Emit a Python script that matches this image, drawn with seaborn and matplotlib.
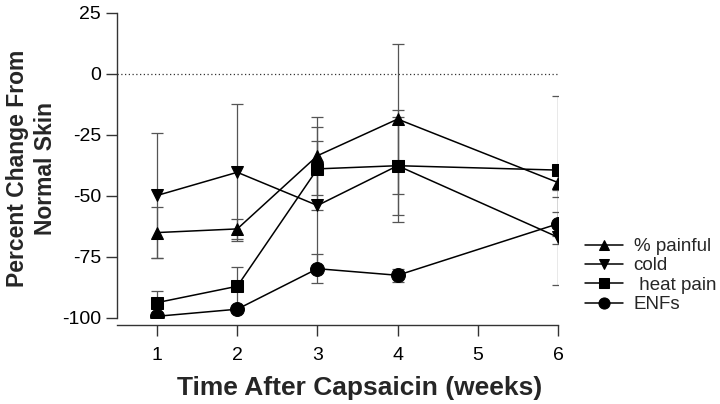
import numpy as np
import pandas as pd
import seaborn as sns
import matplotlib
matplotlib.use("Agg")
import matplotlib.pyplot as plt

# data
WEEKS = [1, 2, 3, 4, 6]
SERIES = ['% painful', 'cold', ' heat pain', 'ENFs']
PAINFUL = [-65, -63.5, -33.5, -18.5, -44.5]
PAINFUL_ERR = [10.5, 4, 16, 30.6, 5.8]
COLD = [-49.8, -40.3, -53.9, -37.6, -66.9]
COLD_ERR = [25.6, 28, 26.3, 20, 19.5]
HEAT = [-93.7, -87, -38.9, -37.6, -39.4]
HEAT_ERR = [4.8, 8, 17, 23, 30.4]
ENFS = [-99.3, -96.4, -79.8, -82.5, -61.4]
ENFS_ERR = [1, 1, 6, 2.6, 5]
MARKERS = {'% painful': '^', 'cold': 'v', ' heat pain': 's', 'ENFs': 'o'}
MSIZE = {'% painful': 9, 'cold': 9, ' heat pain': 8.5, 'ENFs': 10}

sns.set_style('ticks')
plt.rcParams['font.family'] = ['Liberation Sans', 'DejaVu Sans']

vals = [PAINFUL, COLD, HEAT, ENFS]
errs = [PAINFUL_ERR, COLD_ERR, HEAT_ERR, ENFS_ERR]
df = pd.DataFrame({
    'week': WEEKS * len(SERIES),
    'value': sum(vals, []),
    'err': sum(errs, []),
    'series': sum([[s] * len(WEEKS) for s in SERIES], []),
})

fig = plt.figure(figsize=(7.2, 4.04), dpi=100)
ax = fig.add_axes([0.1625, 0.2129, 0.6125, 0.7551])

# error bars behind the lines
for s in SERIES:
    d = df[df.series == s]
    ax.errorbar(d.week, d.value, yerr=d.err, fmt='none', ecolor='#555555',
                elinewidth=0.9, capsize=4, capthick=0.9, zorder=1)

ax.axhline(0, color='#333333', lw=0.9, ls=(0, (1, 2)), zorder=0)

for s in SERIES:
    d = df[df.series == s]
    sns.lineplot(data=d, x='week', y='value', color='black', lw=1.1,
                 marker=MARKERS[s], markersize=MSIZE[s], markeredgecolor='black',
                 label=s, ax=ax, zorder=3)

ax.set_xlim(0.5, 6)
ax.set_ylim(-100, 25)
ax.set_xticks([1, 2, 3, 4, 5, 6])
ax.set_yticks([25, 0, -25, -50, -75, -100])
ax.set_yticklabels(['25', '0', '-25', '-50', '-75', '-100'])
sns.despine(ax=ax)
ax.spines['bottom'].set_position(('outward', 5))
for sp in ('left', 'bottom'):
    ax.spines[sp].set_color('#333333')
    ax.spines[sp].set_linewidth(1.0)
ax.tick_params(axis='both', labelsize=14, colors='#333333', labelcolor='black',
               length=8, width=1.0)
ax.tick_params(axis='x', pad=8)
ax.set_xlabel('Time After Capsaicin (weeks)', fontsize=19, fontweight='bold')
ax.xaxis.set_label_coords(0.551, -0.19)
ax.set_ylabel('Percent Change From\nNormal Skin', fontsize=16.5, fontweight='bold',
              linespacing=1.3)
ax.yaxis.set_label_coords(-0.136, 0.49)

ax.legend(loc='upper left', bbox_to_anchor=(585 / 720, 1 - 238 / 404),
          bbox_transform=fig.transFigure, frameon=False,
          fontsize=13.5, handlelength=2.0, handletextpad=0.6, labelspacing=0.12,
          borderaxespad=0, borderpad=0, markerscale=0.8)

fig.savefig('out.png', dpi=100)
